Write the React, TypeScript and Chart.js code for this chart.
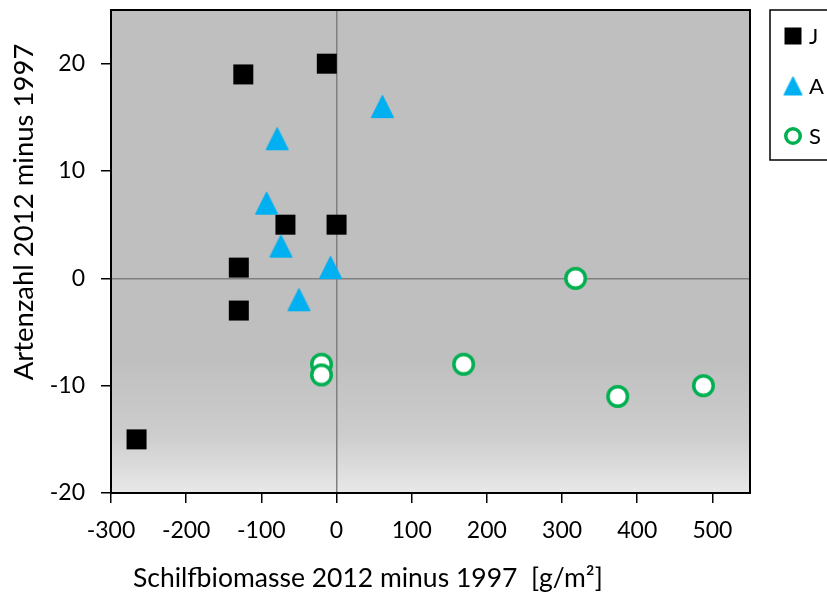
import React, { useEffect, useRef } from 'react';
import { Chart, registerables } from 'chart.js';

Chart.register(...registerables);

// ---- data ----
const SERIES_LABELS = ['J', 'A', 'S'];
const J_X = [-124, -13, -68, 0, -130, -130, -266];
const J_Y = [19, 20, 5, 5, 1, -3, -15];
const A_X = [61, -79, -93, -74, -8, -50];
const A_Y = [16, 13, 7, 3, 1, -2];
const S_X = [318, -20, -20, 169, 374, 488];
const S_Y = [0, -8, -9, -8, -11, -10];

const X_TICKS = [-300, -200, -100, 0, 100, 200, 300, 400, 500];
const Y_TICKS = [-20, -10, 0, 10, 20];
const X_MIN = -300;
const X_MAX = 550;
const Y_MIN = -20;
const Y_MAX = 25;
const X_TITLE = 'Schilfbiomasse 2012 minus 1997  [g/m²]';
const Y_TITLE = 'Artenzahl 2012 minus 1997';

const FONT = 'Lato, "Open Sans", "DejaVu Sans", sans-serif';
const BLUE = '#00B0F0';
const GREEN = '#00B050';

function makeMarker(kind: string, size: number): HTMLCanvasElement {
  const pad = 3;
  const c = document.createElement('canvas');
  c.width = size + pad * 2;
  c.height = size + pad * 2;
  const g = c.getContext('2d')!;
  const m = pad;
  const s = size;
  if (kind === 'square') {
    g.fillStyle = '#000';
    g.fillRect(m, m, s, s);
  } else if (kind === 'triangle') {
    g.beginPath();
    g.moveTo(m + s / 2, m + 0.75);
    g.lineTo(m + s - 0.75, m + s - 0.75);
    g.lineTo(m + 0.75, m + s - 0.75);
    g.closePath();
    g.fillStyle = BLUE;
    g.fill();
    g.lineJoin = 'round';
    g.lineWidth = 1.5;
    g.strokeStyle = BLUE;
    g.stroke();
  } else {
    const lw = 3.5;
    const r = s / 2 - lw / 2;
    g.beginPath();
    g.arc(m + s / 2, m + s / 2, r, 0, Math.PI * 2);
    g.fillStyle = '#fff';
    g.fill();
    g.lineWidth = lw;
    g.strokeStyle = GREEN;
    g.stroke();
  }
  return c;
}

const toPts = (xs: number[], ys: number[]) => xs.map((x, i) => ({ x, y: ys[i] }));

export default function App() {
  const ref = useRef<HTMLCanvasElement | null>(null);

  useEffect(() => {
    if (!ref.current) return;
    const mSquare = makeMarker('square', 20);
    const mTri = makeMarker('triangle', 23);
    const mCirc = makeMarker('circle', 23);
    const lSquare = makeMarker('square', 17);
    const lTri = makeMarker('triangle', 19);
    const lCirc = makeMarker('circle', 18);
    const legendMarkers = [lSquare, lTri, lCirc];

    const bgPlugin = {
      id: 'bg',
      beforeDraw(chart: any) {
        const { ctx, chartArea: a } = chart;
        ctx.save();
        const grad = ctx.createLinearGradient(0, a.top, 0, a.bottom);
        grad.addColorStop(0, '#BFBFBF');
        grad.addColorStop(0.72, '#BFBFBF');
        grad.addColorStop(0.88, '#CDCDCD');
        grad.addColorStop(1, '#E8E8E8');
        ctx.fillStyle = grad;
        ctx.fillRect(a.left, a.top, a.right - a.left, a.bottom - a.top);
        ctx.restore();
      },
      beforeDatasetsDraw(chart: any) {
        const { ctx, chartArea: a } = chart;
        ctx.save();
        ctx.strokeStyle = '#000';
        ctx.lineWidth = 2;
        ctx.strokeRect(a.left, a.top, a.right - a.left, a.bottom - a.top);
        ctx.restore();
      },
      afterDraw(chart: any) {
        const { ctx, chartArea: a } = chart;
        ctx.save();
        ctx.fillStyle = '#000';
        ctx.font = `26.5px ${FONT}`;
        ctx.textAlign = 'left';
        ctx.textBaseline = 'alphabetic';
        ctx.fillText(X_TITLE, a.left + 22, 587);
        ctx.font = `27.5px ${FONT}`;
        ctx.translate(33, 212);
        ctx.rotate(-Math.PI / 2);
        ctx.textAlign = 'center';
        ctx.fillText(Y_TITLE, 0, 0);
        ctx.restore();

        // legend
        ctx.save();
        const lx = a.right + 20;
        const ly = a.top;
        ctx.fillStyle = '#fff';
        ctx.fillRect(lx, ly, 100, 150);
        ctx.strokeStyle = '#000';
        ctx.lineWidth = 1.5;
        ctx.strokeRect(lx, ly, 100, 150);
        ctx.font = `22px ${FONT}`;
        ctx.textAlign = 'left';
        ctx.textBaseline = 'middle';
        ctx.fillStyle = '#000';
        chart.data.datasets.forEach((ds: any, i: number) => {
          const cy = ly + 26 + i * 50;
          const mk = legendMarkers[i];
          ctx.drawImage(mk, lx + 23 - mk.width / 2, cy - mk.height / 2);
          ctx.fillText(ds.label, lx + 39, cy + 1);
        });
        ctx.restore();
      },
    };

    const tickFont = { family: FONT, size: 23 };
    const gridCfg = {
      color: (c: any) => (c.tick && c.tick.value === 0 ? '#808080' : 'rgba(0,0,0,0)'),
      lineWidth: 1.5,
      drawTicks: true,
      tickLength: 10,
      tickColor: '#000',
      tickWidth: 1.5,
    };

    const chart = new Chart(ref.current, {
      type: 'scatter',
      data: {
        datasets: [
          { label: SERIES_LABELS[0], data: toPts(J_X, J_Y), pointStyle: mSquare as any, order: 3, backgroundColor: '#000', borderColor: '#000' },
          { label: SERIES_LABELS[1], data: toPts(A_X, A_Y), pointStyle: mTri as any, order: 2, backgroundColor: BLUE, borderColor: BLUE },
          { label: SERIES_LABELS[2], data: toPts(S_X, S_Y), pointStyle: mCirc as any, order: 1, backgroundColor: '#fff', borderColor: GREEN },
        ],
      },
      options: {
        animation: false,
        responsive: false,
        devicePixelRatio: 1,
        layout: { padding: { top: 10, right: 77, left: 0, bottom: 0 } },
        plugins: { legend: { display: false }, tooltip: { enabled: false } },
        scales: {
          x: {
            type: 'linear',
            min: X_MIN,
            max: X_MAX,
            afterBuildTicks: (s: any) => {
              s.ticks = X_TICKS.map((v) => ({ value: v }));
            },
            afterFit: (s: any) => {
              s.height = 100;
              s.paddingLeft = 0;
              s.paddingRight = 0;
            },
            grid: gridCfg as any,
            border: { display: false },
            ticks: { font: tickFont, color: '#000', padding: 14, maxRotation: 0, autoSkip: false },
          },
          y: {
            type: 'linear',
            min: Y_MIN,
            max: Y_MAX,
            afterBuildTicks: (s: any) => {
              s.ticks = Y_TICKS.map((v) => ({ value: v }));
            },
            afterFit: (s: any) => {
              s.width = 111;
              s.paddingTop = 0;
              s.paddingBottom = 0;
            },
            grid: gridCfg as any,
            border: { display: false },
            ticks: { font: tickFont, color: '#000', padding: 16, autoSkip: false },
          },
        },
      },
      plugins: [bgPlugin],
    } as any);
    return () => chart.destroy();
  }, []);

  return (
    <div style={{ position: 'absolute', left: 0, top: 0, width: 827, height: 593, background: '#fff', overflow: 'hidden' }}>
      <canvas ref={ref} width={827} height={593} style={{ display: 'block' }} />
    </div>
  );
}
